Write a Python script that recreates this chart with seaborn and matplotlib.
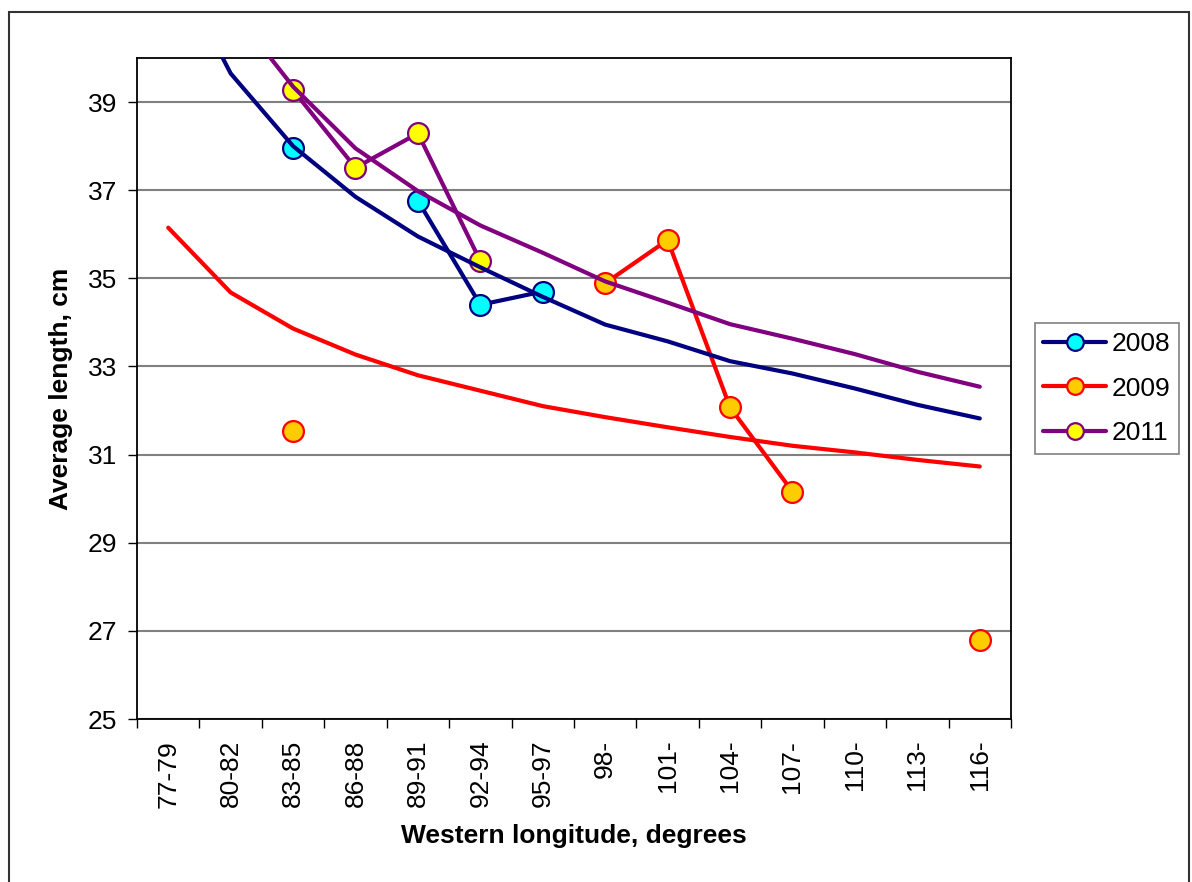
import matplotlib
matplotlib.use("Agg")
import matplotlib.pyplot as plt
from matplotlib.lines import Line2D
from matplotlib.patches import Rectangle
import seaborn as sns
import numpy as np
import pandas as pd

nan = np.nan

categories = ['77-79', '80-82', '83-85', '86-88', '89-91', '92-94', '95-97',
              '98-', '101-', '104-', '107-', '110-', '113-', '116-']
years = ['2008', '2009', '2011']

# observed averages (gaps = no sampling)
len_2008 = [nan, nan, 37.95, nan, 36.76, 34.40, 34.70, nan, nan, nan, nan, nan, nan, nan]
len_2009 = [nan, nan, 31.54, nan, nan, nan, nan, 34.89, 35.87, 32.07, 30.16, nan, nan, 26.79]
len_2011 = [nan, nan, 39.27, 37.51, 38.29, 35.39, nan, nan, nan, nan, nan, nan, nan, nan]

# trend lines at each category
trend_2008 = [42.4, 39.65, 38.0, 36.85, 35.95, 35.25, 34.58, 33.95, 33.57, 33.12, 32.84, 32.5, 32.13, 31.82]
trend_2009 = [36.15, 34.68, 33.86, 33.27, 32.8, 32.45, 32.1, 31.85, 31.62, 31.4, 31.2, 31.05, 30.88, 30.73]
trend_2011 = [44.2, 41.15, 39.35, 37.95, 36.98, 36.2, 35.58, 34.93, 34.45, 33.96, 33.63, 33.28, 32.88, 32.54]

line_colors = ['#000080', '#FF0000', '#800080']
face_colors = ['#00FFFF', '#FFCC00', '#FFFF00']

sns.set_style('white')
plt.rcParams['font.family'] = ['Liberation Sans', 'DejaVu Sans']
for k in ['text.color', 'axes.labelcolor', 'xtick.color', 'ytick.color']:
    plt.rcParams[k] = 'black'
FS = 19

fig = plt.figure(figsize=(11.92, 8.82), dpi=100)
ax = fig.add_axes([137 / 1192, 1 - 719 / 882, 874 / 1192, 661 / 882])

pos = np.arange(1, len(categories) + 1)
series = [len_2008, len_2009, len_2011]
trends = [trend_2008, trend_2009, trend_2011]

for vals, lc, fc in zip(series, line_colors, face_colors):
    df = pd.DataFrame({'pos': pos, 'value': vals})
    df['seg'] = df['value'].isna().cumsum()
    df = df.dropna()
    sns.lineplot(data=df, x='pos', y='value', units='seg', estimator=None,
                 color=lc, lw=3, marker='o', markersize=15,
                 markerfacecolor=fc, markeredgecolor=lc, markeredgewidth=1.6,
                 zorder=3, ax=ax)

for trend, lc in zip(trends, line_colors):
    sns.lineplot(x=pos, y=trend, color=lc, lw=3, zorder=4, ax=ax)

ax.set_xlim(0.5, len(categories) + 0.5)
ax.set_ylim(25, 40)
ax.set_yticks(np.arange(25, 40, 2))
ax.yaxis.grid(True, color='#808080', lw=1.5)
ax.xaxis.grid(False)

ax.set_xticks(pos, labels=categories, rotation=90)
ax.set_xticks(np.arange(0.5, len(categories) + 1), minor=True)
ax.tick_params(axis='x', which='major', length=0, pad=15, labelsize=FS)
ax.tick_params(axis='x', which='minor', length=6.5, width=1, color='black', bottom=True)
ax.tick_params(axis='y', length=6.5, width=1, color='black', pad=8, labelsize=FS, left=True)

for s in ax.spines.values():
    s.set_color('black')
    s.set_linewidth(1.3)

ax.set_xlabel('Western longitude, degrees', fontsize=FS, fontweight='bold', labelpad=12)
ax.set_ylabel('Average length, cm', fontsize=FS, fontweight='bold', labelpad=10)

handles = [Line2D([], [], color=lc, lw=3, marker='o', markersize=12,
                  markerfacecolor=fc, markeredgecolor=lc, markeredgewidth=1.6)
           for lc, fc in zip(line_colors, face_colors)]
leg = ax.legend(handles, years, loc='center left', bbox_to_anchor=(1.027, 0.5),
                fontsize=FS, frameon=True, fancybox=False, framealpha=1,
                edgecolor='#808080', handlelength=2.4, handletextpad=0.2,
                labelspacing=0.78, borderpad=0.32, borderaxespad=0)
leg.get_frame().set_linewidth(1.2)

# chart area border
fig.patches.append(Rectangle((9 / 1192, -0.05), 1180 / 1192, 1.05 - 12 / 882,
                             transform=fig.transFigure, fill=False,
                             edgecolor='#333333', lw=1.5, zorder=0))

fig.savefig('out.png', dpi=100)
